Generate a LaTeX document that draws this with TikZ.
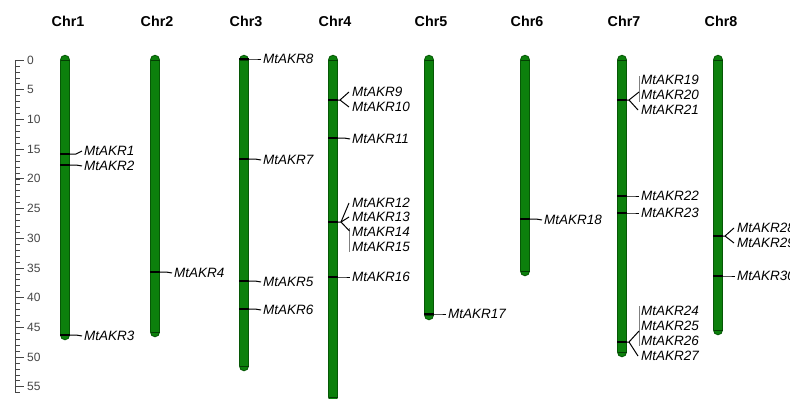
\documentclass[tikz,border=0pt]{standalone}
\usepackage{fontspec}
\setmainfont{Liberation Sans}
\definecolor{chromfill}{RGB}{12,128,12}
\definecolor{chromedge}{RGB}{6,88,6}
\definecolor{axisgray}{RGB}{70,70,70}
% chromosome: name, x, bottom y (top is the 0 Mb line at y=60)
\newcommand\drawchrom[3]{%
  \coordinate (#1t) at (#2,60);
  \coordinate (#1b) at (#2,#3);
  \draw[chromedgeline] (#1t) -- (#1b);
  \draw[chrombody] (#1t) -- (#1b);
  \draw[capline] ([xshift=-4.5pt]#1t) -- ([xshift=4.5pt]#1t);
  \draw[capline] ([xshift=-4.5pt]#1b) -- ([xshift=4.5pt]#1b);
}
% single gene: chromosome x, marker y, label y, node name, text
\newcommand\onegene[5]{%
  \coordinate (#4m) at (#1,#2);
  \draw[marker] ([xshift=-5pt]#4m) -- ([xshift=5pt]#4m);
  \node[gene] (#4) at (#1+19,#3) {#5};
  \draw[link] ([xshift=5pt]#4m) -- ([xshift=11pt]#4m) -- ([xshift=-2pt]#4.west);
}
% gene label only (for grouped loci)
\newcommand\genelabel[4]{\node[gene] (#3) at (#1+19,#2) {#4};}
\begin{document}
\begin{tikzpicture}[x=1pt,y=-1pt,
  chromedgeline/.style={line width=10.5pt,line cap=round,draw=chromedge},
  chrombody/.style={line width=8.5pt,line cap=round,draw=chromfill},
  capline/.style={draw=chromedge!70!black,line width=0.7pt},
  marker/.style={draw=black,line width=1.2pt},
  link/.style={draw=black,line width=1pt},
  bracket/.style={draw=gray,line width=0.6pt},
  gene/.style={font=\fontsize{13.5}{14}\selectfont\itshape,inner sep=0pt,anchor=west},
  chrname/.style={font=\fontsize{14.3}{15}\selectfont\bfseries},
  ticklabel/.style={font=\fontsize{12}{13}\selectfont,text=axisgray,anchor=west,inner sep=0pt}]
\useasboundingbox (0,0) rectangle (790,399);

% scale bar (Mb)
\draw[axisgray,line width=0.8pt] (15,60) -- (15,392.6);
\foreach \v in {0,...,56} {
  \draw[axisgray,line width=0.6pt] (15,{60+5.94*\v}) -- (20,{60+5.94*\v});
}
\foreach \v in {0,5,...,55} {
  \draw[axisgray,line width=0.7pt] (15,{60+5.94*\v}) -- (24,{60+5.94*\v});
  \node[ticklabel] (tick\v) at (27,{60+5.94*\v}) {\v};
}

% chromosome names
\node[chrname] (n1) at (68,21) {Chr1};
\node[chrname] (n2) at (157,21) {Chr2};
\node[chrname] (n3) at (246,21) {Chr3};
\node[chrname] (n4) at (335,21) {Chr4};
\node[chrname] (n5) at (431,21) {Chr5};
\node[chrname] (n6) at (527,21) {Chr6};
\node[chrname] (n7) at (624,21) {Chr7};
\node[chrname] (n8) at (721,21) {Chr8};

% chromosomes
\drawchrom{c1}{65}{335}
\drawchrom{c2}{155}{332}
\drawchrom{c3}{244}{366}
\drawchrom{c4}{333}{397}
\drawchrom{c5}{429}{315}
\drawchrom{c6}{525}{271}
\drawchrom{c7}{622}{352}
\drawchrom{c8}{718}{330}

% Chr1
\onegene{65}{154}{151}{g1}{MtAKR1}
\onegene{65}{165}{166}{g2}{MtAKR2}
\onegene{65}{335}{336}{g3}{MtAKR3}
% Chr2
\onegene{155}{272}{273}{g4}{MtAKR4}
% Chr3
\onegene{244}{59}{59}{g8}{MtAKR8}
\onegene{244}{159}{160}{g7}{MtAKR7}
\onegene{244}{281}{282}{g5}{MtAKR5}
\onegene{244}{309}{310}{g6}{MtAKR6}
% Chr4
\coordinate (k4a) at (333,100);
\draw[marker] ([xshift=-5pt]k4a) -- ([xshift=5pt]k4a);
\genelabel{333}{92}{g9}{MtAKR9}
\genelabel{333}{107}{g10}{MtAKR10}
\draw[link] ([xshift=5pt]k4a) -- ([xshift=7pt]k4a) -- ([xshift=-3pt]g9.west);
\draw[link] ([xshift=7pt]k4a) -- ([xshift=-3pt]g10.west);
\onegene{333}{138}{139}{g11}{MtAKR11}
\coordinate (k4b) at (333,222);
\draw[marker] ([xshift=-5pt]k4b) -- ([xshift=5pt]k4b);
\genelabel{333}{203}{g12}{MtAKR12}
\genelabel{333}{217}{g13}{MtAKR13}
\genelabel{333}{232}{g14}{MtAKR14}
\genelabel{333}{247}{g15}{MtAKR15}
\draw[bracket] (349.5,228) -- (349.5,252);
\draw[link] ([xshift=5pt]k4b) -- ([xshift=8pt]k4b) -- ([xshift=-3pt]g12.west);
\draw[link] ([xshift=8pt]k4b) -- ([xshift=-3pt]g13.west);
\draw[link] ([xshift=8pt]k4b) -- (349.5,231);
\onegene{333}{277}{277}{g16}{MtAKR16}
% Chr5
\onegene{429}{314}{314}{g17}{MtAKR17}
% Chr6
\onegene{525}{219}{220}{g18}{MtAKR18}
% Chr7
\coordinate (k7a) at (622,100);
\draw[marker] ([xshift=-5pt]k7a) -- ([xshift=5pt]k7a);
\genelabel{622}{80}{g19}{MtAKR19}
\genelabel{622}{95}{g20}{MtAKR20}
\genelabel{622}{110}{g21}{MtAKR21}
\draw[bracket] (639,76) -- (639,102);
\draw[link] ([xshift=5pt]k7a) -- ([xshift=7pt]k7a) -- (639,92);
\draw[link] ([xshift=7pt]k7a) -- ([xshift=-3pt]g21.west);
\onegene{622}{196}{196}{g22}{MtAKR22}
\onegene{622}{213}{213}{g23}{MtAKR23}
\coordinate (k7b) at (622,342);
\draw[marker] ([xshift=-5pt]k7b) -- ([xshift=5pt]k7b);
\genelabel{622}{311}{g24}{MtAKR24}
\genelabel{622}{326}{g25}{MtAKR25}
\genelabel{622}{341}{g26}{MtAKR26}
\genelabel{622}{356}{g27}{MtAKR27}
\draw[bracket] (639,306) -- (639,346);
\draw[link] ([xshift=5pt]k7b) -- ([xshift=7pt]k7b) -- (639,331);
\draw[link] ([xshift=7pt]k7b) -- ([xshift=-3pt]g27.west);
% Chr8
\coordinate (k8a) at (718,236);
\draw[marker] ([xshift=-5pt]k8a) -- ([xshift=5pt]k8a);
\genelabel{718}{228}{g28}{MtAKR28}
\genelabel{718}{243}{g29}{MtAKR29}
\draw[link] ([xshift=5pt]k8a) -- ([xshift=7pt]k8a) -- ([xshift=-3pt]g28.west);
\draw[link] ([xshift=7pt]k8a) -- ([xshift=-3pt]g29.west);
\onegene{718}{276}{276}{g30}{MtAKR30}
\end{tikzpicture}
\end{document}
